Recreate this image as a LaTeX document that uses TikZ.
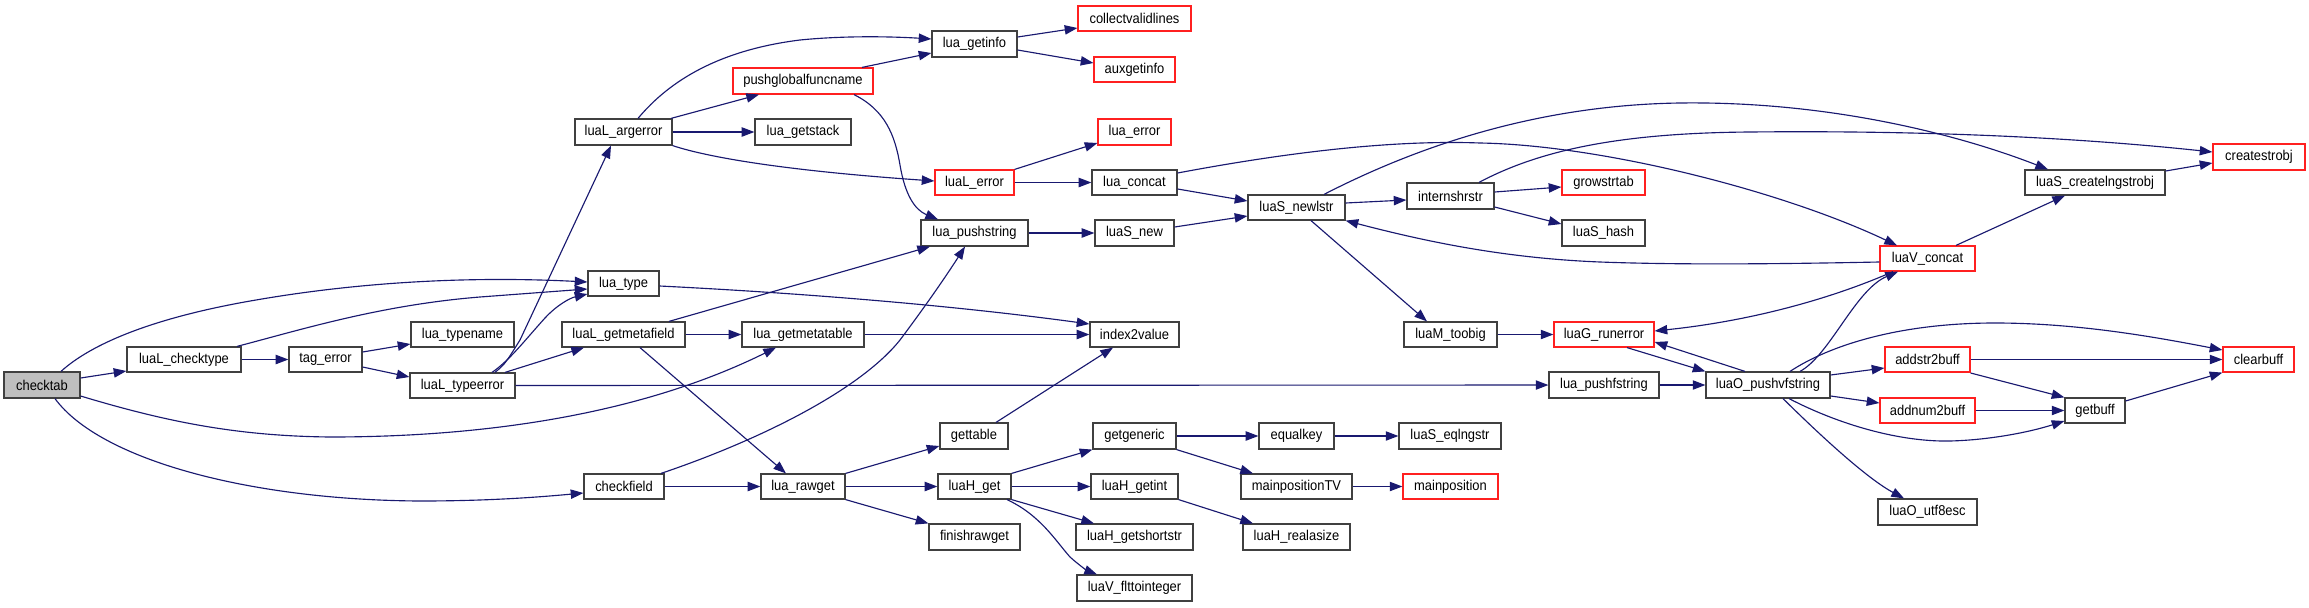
\documentclass[tikz,border=0pt]{standalone}
\usepackage{graphicx}
\usepackage{fontspec}
\setmainfont{Liberation Sans}
\usetikzlibrary{arrows.meta}
\definecolor{edgecol}{HTML}{191970}
\definecolor{boxcol}{HTML}{404040}
\definecolor{rootfill}{HTML}{BFBFBF}
\definecolor{boxred}{HTML}{FF2020}
\tikzset{
  fn/.style={draw=boxcol, fill=white, line width=0.9pt, inner sep=0pt, font=\fontsize{9.7}{11}\selectfont},
  fnred/.style={fn, draw=boxred},
  fnroot/.style={fn, fill=rootfill},
  cg/.style={draw=edgecol, line width=0.85pt, -{Triangle[length=9.5pt,width=7pt]}}
}
\newcommand\gn[7]{\node[#6, minimum width={(#4-#2)*0.75pt}, minimum height={(#5-#3)*0.75pt}] (#1) at ({(#2+#4)/2},{(#3+#5)/2}) {\scalebox{1}[1.1]{#7}};}
\begin{document}
\begin{tikzpicture}[x=0.75pt,y=-0.75pt]
\fill[white] (0,0) rectangle (2309,607);
\useasboundingbox (0,0) rectangle (2309,607);
% nodes
\gn{checktab}{4}{372}{80}{398}{fnroot}{checktab}
\gn{checktype}{127}{347}{241}{372}{fn}{luaL\_checktype}
\gn{tagerror}{289}{347}{362}{372}{fn}{tag\_error}
\gn{typename}{411}{322}{514}{347}{fn}{lua\_typename}
\gn{typeerror}{410}{373}{515}{398}{fn}{luaL\_typeerror}
\gn{argerror}{575}{119}{672}{145}{fn}{luaL\_argerror}
\gn{luatype}{588}{271}{659}{296}{fn}{lua\_type}
\gn{getmetafield}{562}{322}{685}{347}{fn}{luaL\_getmetafield}
\gn{checkfield}{584}{474}{664}{499}{fn}{checkfield}
\gn{pushglobal}{733}{68}{873}{94}{fnred}{pushglobalfuncname}
\gn{getstack}{755}{119}{851}{145}{fn}{lua\_getstack}
\gn{getmetatable}{742}{322}{864}{347}{fn}{lua\_getmetatable}
\gn{rawget}{761}{474}{845}{499}{fn}{lua\_rawget}
\gn{getinfo}{932}{31}{1017}{57}{fn}{lua\_getinfo}
\gn{lerror}{935}{170}{1014}{195}{fnred}{luaL\_error}
\gn{pushstring}{921}{220}{1028}{246}{fn}{lua\_pushstring}
\gn{gettable}{940}{423}{1008}{449}{fn}{gettable}
\gn{hget}{938}{474}{1011}{499}{fn}{luaH\_get}
\gn{finishrawget}{929}{524}{1020}{550}{fn}{finishrawget}
\gn{collect}{1078}{6}{1191}{31}{fnred}{collectvalidlines}
\gn{auxgetinfo}{1094}{57}{1175}{82}{fnred}{auxgetinfo}
\gn{luaerror}{1098}{119}{1171}{145}{fnred}{lua\_error}
\gn{concat}{1092}{170}{1177}{195}{fn}{lua\_concat}
\gn{snew}{1095}{220}{1174}{246}{fn}{luaS\_new}
\gn{index2value}{1090}{322}{1179}{347}{fn}{index2value}
\gn{getgeneric}{1093}{423}{1176}{449}{fn}{getgeneric}
\gn{getint}{1091}{474}{1178}{499}{fn}{luaH\_getint}
\gn{getshortstr}{1076}{524}{1193}{550}{fn}{luaH\_getshortstr}
\gn{flttoint}{1077}{575}{1192}{601}{fn}{luaV\_flttointeger}
\gn{newlstr}{1248}{195}{1345}{220}{fn}{luaS\_newlstr}
\gn{toobig}{1404}{322}{1497}{347}{fn}{luaM\_toobig}
\gn{equalkey}{1259}{423}{1334}{449}{fn}{equalkey}
\gn{mainposTV}{1241}{474}{1352}{499}{fn}{mainpositionTV}
\gn{realasize}{1243}{524}{1350}{550}{fn}{luaH\_realasize}
\gn{internshrstr}{1407}{183}{1494}{209}{fn}{internshrstr}
\gn{eqlngstr}{1399}{423}{1501}{449}{fn}{luaS\_eqlngstr}
\gn{mainpos}{1403}{474}{1498}{499}{fnred}{mainposition}
\gn{growstrtab}{1562}{170}{1645}{195}{fnred}{growstrtab}
\gn{shash}{1562}{220}{1645}{246}{fn}{luaS\_hash}
\gn{runerror}{1554}{322}{1654}{347}{fnred}{luaG\_runerror}
\gn{pushfstring}{1549}{372}{1659}{398}{fn}{lua\_pushfstring}
\gn{pushvfstring}{1706}{372}{1830}{398}{fn}{luaO\_pushvfstring}
\gn{vconcat}{1880}{246}{1975}{271}{fnred}{luaV\_concat}
\gn{addstr}{1885}{347}{1970}{372}{fnred}{addstr2buff}
\gn{addnum}{1880}{398}{1975}{423}{fnred}{addnum2buff}
\gn{utfesc}{1878}{499}{1977}{525}{fn}{luaO\_utf8esc}
\gn{createlng}{2025}{170}{2165}{195}{fn}{luaS\_createlngstrobj}
\gn{getbuff}{2065}{398}{2125}{423}{fn}{getbuff}
\gn{createstrobj}{2213}{144}{2305}{170}{fnred}{createstrobj}
\gn{clearbuff}{2223}{347}{2294}{372}{fnred}{clearbuff}
% edges
\draw[cg] (checktab.east |- 0,378) -- (checktype.west |- 0,371);
\draw[cg] (checktab.north -| 61,0) .. controls (90,345) and (150,318) .. (256,300) .. controls (360,282) and (470,276) .. (luatype.west |- 0,282);
\draw[cg] (checktab.east |- 0,396) .. controls (170,423) and (240,436) .. (330,437) .. controls (500,437) and (650,410) .. (getmetatable.south -| 776,0);
\draw[cg] (checktab.south -| 55,0) .. controls (100,460) and (250,500) .. (420,501) .. controls (490,501) and (540,497) .. (checkfield.west |- 0,493);
\draw[cg] (checktype) -- (tagerror);
\draw[cg] (checktype.north -| 237,0) .. controls (300,330) and (380,305) .. (480,297) .. controls (520,294) and (560,291) .. (luatype.west |- 0,289);
\draw[cg] (tagerror.east |- 0,352) -- (typename.west |- 0,344);
\draw[cg] (tagerror.east |- 0,367) -- (typeerror.west |- 0,377);
\draw[cg] (typeerror.north -| 495,0) .. controls (505,364) .. (520,340) -- (argerror.south -| 611,0);
\draw[cg] (typeerror.north -| 492,0) .. controls (510,360) and (525,340) .. (545,318) .. controls (557,305) and (570,298) .. (luatype.west |- 0,294);
\draw[cg] (typeerror.north -| 505,0) -- (getmetafield.south -| 584,0);
\draw[cg] (typeerror) -- (pushfstring);
\draw[cg] (argerror.north -| 638,0) .. controls (670,80) and (720,50) .. (800,40) .. controls (850,35) and (900,37) .. (getinfo.west |- 0,39);
\draw[cg] (argerror.north -| 671,0) -- (pushglobal.south -| 759,0);
\draw[cg] (argerror) -- (getstack);
\draw[cg] (argerror.south east) .. controls (710,158) and (790,171) .. (lerror.west |- 0,181);
\draw[cg] (pushglobal.north -| 862,0) -- (getinfo.west |- 0,53);
\draw[cg] (pushglobal.south -| 854,0) .. controls (885,110) and (895,135) .. (900,165) .. controls (905,195) and (915,210) .. (pushstring.north -| 938,0);
\draw[cg] (getinfo.east |- 0,37) -- (collect.west |- 0,28);
\draw[cg] (getinfo.east |- 0,50) -- (auxgetinfo.west |- 0,63);
\draw[cg] (lerror.north east) -- (luaerror.west |- 0,143);
\draw[cg] (lerror) -- (concat);
\draw[cg] (concat.east |- 0,189) -- (newlstr.west |- 0,201);
\draw[cg] (concat.east |- 0,173) .. controls (1300,150) and (1400,140) .. (1480,143) .. controls (1600,145) and (1780,190) .. (vconcat.north -| 1897,0);
\draw[cg] (snew.east |- 0,227) -- (newlstr.west |- 0,216);
\draw[cg] (pushstring) -- (snew);
\draw[cg] (newlstr.east |- 0,203) -- (internshrstr.west |- 0,200);
\draw[cg] (newlstr.north -| 1324,0) .. controls (1420,145) and (1540,105) .. (1680,103) .. controls (1830,101) and (1960,135) .. (createlng.north -| 2048,0);
\draw[cg] (newlstr.south -| 1311,0) -- (toobig.north -| 1427,0);
\draw[cg] (internshrstr.east |- 0,192) -- (growstrtab.west |- 0,187);
\draw[cg] (internshrstr.east |- 0,207) -- (shash.west |- 0,224);
\draw[cg] (internshrstr.north -| 1479,0) .. controls (1540,150) and (1620,133) .. (1750,132) .. controls (1950,130) and (2100,140) .. (createstrobj.west |- 0,152);
\draw[cg] (vconcat.west |- 0,262) .. controls (1780,264) and (1680,265) .. (1600,262) .. controls (1500,258) and (1420,240) .. (newlstr.south east);
\draw[cg] (vconcat.north -| 1956,0) -- (createlng.south -| 2065,0);
\draw[cg] (vconcat.south -| 1893,0) .. controls (1840,295) and (1760,320) .. (runerror.east |- 0,331);
\draw[cg] (toobig) -- (runerror);
\draw[cg] (runerror.south -| 1627,0) -- (pushvfstring.north west);
\draw[cg] (pushvfstring.north -| 1745,0) -- (runerror.east |- 0,342);
\draw[cg] (pushfstring) -- (pushvfstring);
\draw[cg] (pushvfstring.east |- 0,375) -- (addstr.west |- 0,368);
\draw[cg] (pushvfstring.east |- 0,396) -- (addnum.west |- 0,403);
\draw[cg] (pushvfstring.south -| 1789,0) .. controls (1840,425) and (1900,442) .. (1950,441) .. controls (1990,440) and (2030,432) .. (getbuff.west |- 0,421);
\draw[cg] (pushvfstring.south -| 1783,0) .. controls (1830,445) and (1870,480) .. (utfesc.north -| 1904,0);
\draw[cg] (pushvfstring.north -| 1790,0) .. controls (1830,345) and (1900,323) .. (1995,323) .. controls (2080,323) and (2160,338) .. (clearbuff.west |- 0,350);
\draw[cg] (pushvfstring.north -| 1800,0) .. controls (1830,355) and (1855,290) .. (vconcat.south -| 1898,0);
\draw[cg] (addstr) -- (clearbuff);
\draw[cg] (addstr.east |- 0,373) -- (getbuff.north west);
\draw[cg] (addnum) -- (getbuff);
\draw[cg] (getbuff.east |- 0,401) -- (clearbuff.south west);
\draw[cg] (createlng.east |- 0,171) -- (createstrobj.west |- 0,163);
\draw[cg] (luatype.east |- 0,286) .. controls (800,293) and (950,305) .. (index2value.west |- 0,324);
\draw[cg] (getmetafield) -- (getmetatable);
\draw[cg] (getmetafield.north -| 669,0) -- (pushstring.south -| 930,0);
\draw[cg] (getmetafield.south -| 640,0) -- (rawget.north -| 786,0);
\draw[cg] (getmetatable) -- (index2value);
\draw[cg] (checkfield) -- (rawget);
\draw[cg] (checkfield.north -| 661,0) .. controls (760,440) and (860,390) .. (900,340) .. controls (930,300) and (950,270) .. (pushstring.south -| 965,0);
\draw[cg] (rawget.north east) -- (gettable.west |- 0,446);
\draw[cg] (rawget) -- (hget);
\draw[cg] (rawget.south east) -- (finishrawget.north west);
\draw[cg] (gettable.north -| 996,0) -- (index2value.south -| 1113,0);
\draw[cg] (hget.north east) -- (getgeneric.south west);
\draw[cg] (hget) -- (getint);
\draw[cg] (hget.south east) -- (getshortstr.north -| 1094,0);
\draw[cg] (hget.south -| 1007,0) .. controls (1040,515) and (1055,540) .. (1070,557) .. controls (1080,566) and (1088,571) .. (flttoint.north -| 1097,0);
\draw[cg] (getgeneric) -- (equalkey);
\draw[cg] (getgeneric.south east) -- (mainposTV.north -| 1253,0);
\draw[cg] (equalkey) -- (eqlngstr);
\draw[cg] (mainposTV) -- (mainpos);
\draw[cg] (getint.south east) -- (realasize.north -| 1253,0);
\end{tikzpicture}
\end{document}
